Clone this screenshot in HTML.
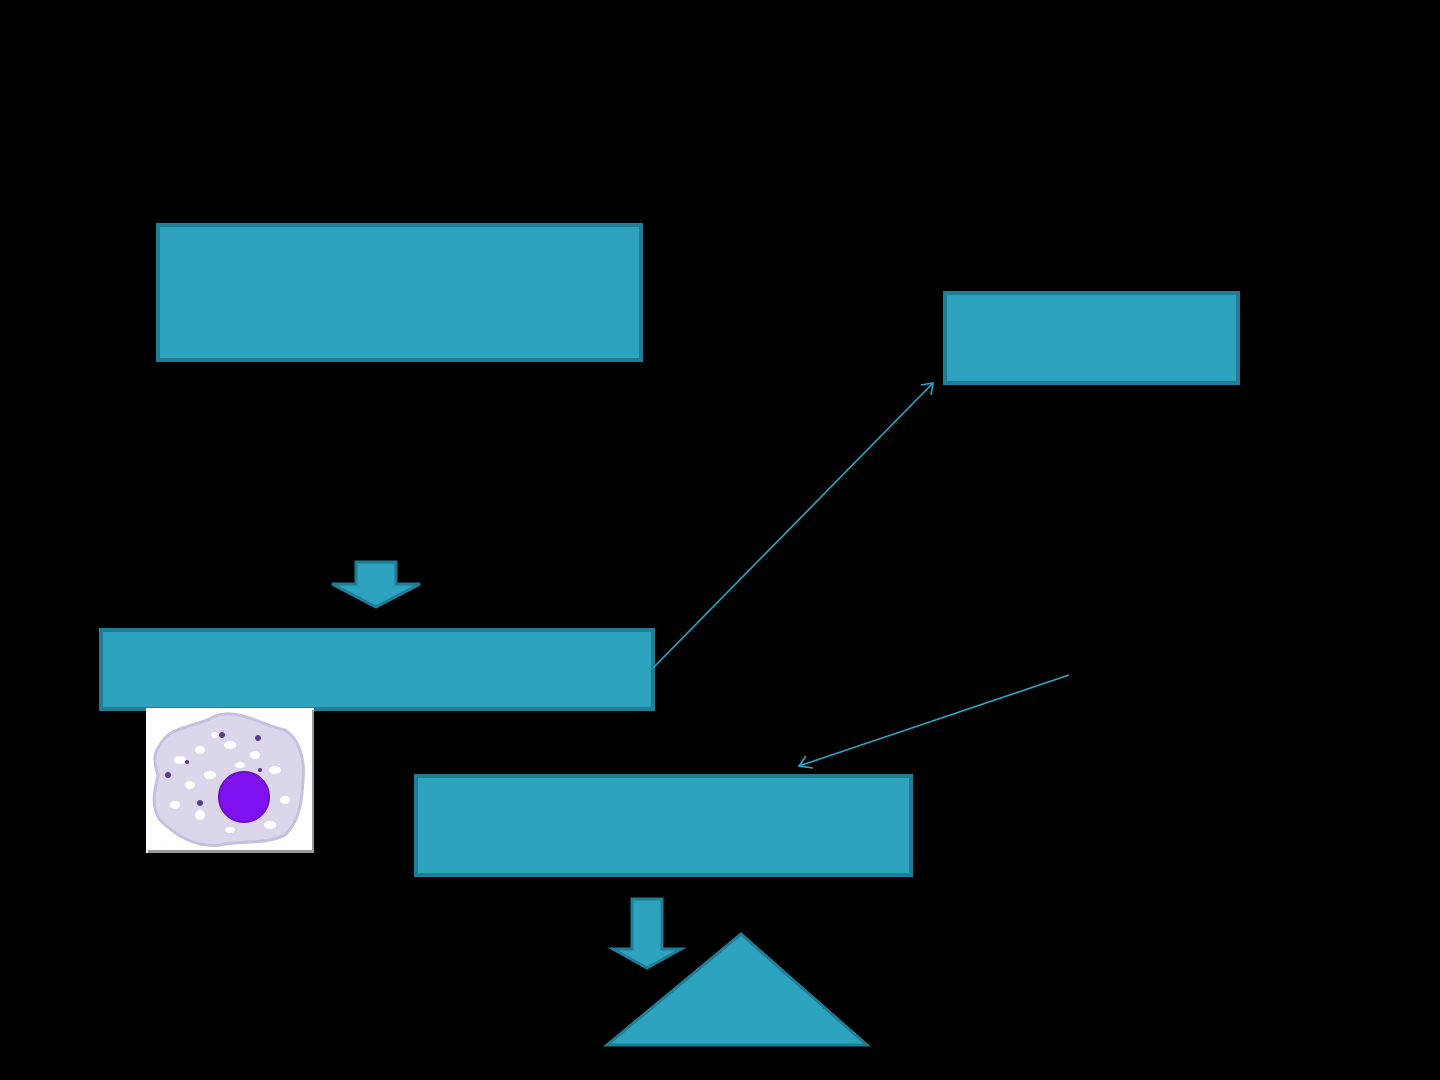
<!DOCTYPE html>
<html><head><meta charset="utf-8"><style>
html,body{margin:0;padding:0;background:#000;width:1440px;height:1080px;overflow:hidden}
</style></head><body>
<svg width="1440" height="1080" viewBox="0 0 1440 1080" xmlns="http://www.w3.org/2000/svg">
<rect width="1440" height="1080" fill="#000"/>
<g fill="#2ea3bf" stroke="#1f7d95" stroke-width="4">
<rect x="158" y="225" width="483" height="135"/>
<rect x="945" y="293" width="293" height="90"/>
<rect x="101" y="630" width="552" height="79"/>
<rect x="416" y="776" width="495" height="99"/>
<polygon points="356,562 396,562 396,584 420,584 376,607 332,584 356,584" stroke-width="3"/>
<polygon points="632,899 662,899 662,949 681,949 647,968 613,949 632,949" stroke-width="3"/>
<polygon points="741,934 867,1045 607,1045" stroke-width="3"/>
</g>
<g stroke="#2aa7c9" stroke-width="1.6" fill="none">
<line x1="653" y1="668" x2="933" y2="383"/>
<polyline points="921,385 933,383 931,395"/>
<line x1="1069" y1="675" x2="799" y2="766"/>
<polyline points="806,756 799,766 813,768"/>
</g>
<rect x="146" y="708" width="168" height="145" fill="#fff"/>
<rect x="148" y="850" width="166" height="3" fill="#999"/>
<rect x="312" y="710" width="2" height="143" fill="#999"/>
<path d="M160,745 C170,725 195,728 215,716 C240,708 260,725 285,730 C300,740 305,760 303,780 C302,800 300,820 285,835 C265,845 240,840 220,845 C195,848 175,835 160,820 C150,805 155,790 158,775 C155,765 152,755 160,745 Z" fill="#dcd6ea" stroke="#c8bfe0" stroke-width="3"/>
<g fill="#fff">
<ellipse cx="180" cy="760" rx="6" ry="4"/><ellipse cx="200" cy="750" rx="5" ry="4"/>
<ellipse cx="230" cy="745" rx="6" ry="4"/><ellipse cx="255" cy="755" rx="5" ry="4"/>
<ellipse cx="275" cy="770" rx="6" ry="4"/><ellipse cx="190" cy="785" rx="5" ry="4"/>
<ellipse cx="210" cy="775" rx="6" ry="4"/><ellipse cx="175" cy="805" rx="5" ry="4"/>
<ellipse cx="200" cy="815" rx="5" ry="5"/><ellipse cx="285" cy="800" rx="5" ry="4"/>
<ellipse cx="270" cy="825" rx="6" ry="4"/><ellipse cx="230" cy="830" rx="5" ry="3"/>
<ellipse cx="240" cy="765" rx="5" ry="3"/><ellipse cx="215" cy="735" rx="4" ry="3"/>
</g>
<g fill="#5a3b8a"><circle cx="222" cy="735" r="3"/><circle cx="258" cy="738" r="3"/><circle cx="168" cy="775" r="3"/><circle cx="200" cy="803" r="3"/><circle cx="187" cy="762" r="2"/><circle cx="260" cy="770" r="2"/></g>
<circle cx="244" cy="797" r="25" fill="#7f10f0" stroke="#6a0fc8" stroke-width="2"/>
</svg>
</body></html>
